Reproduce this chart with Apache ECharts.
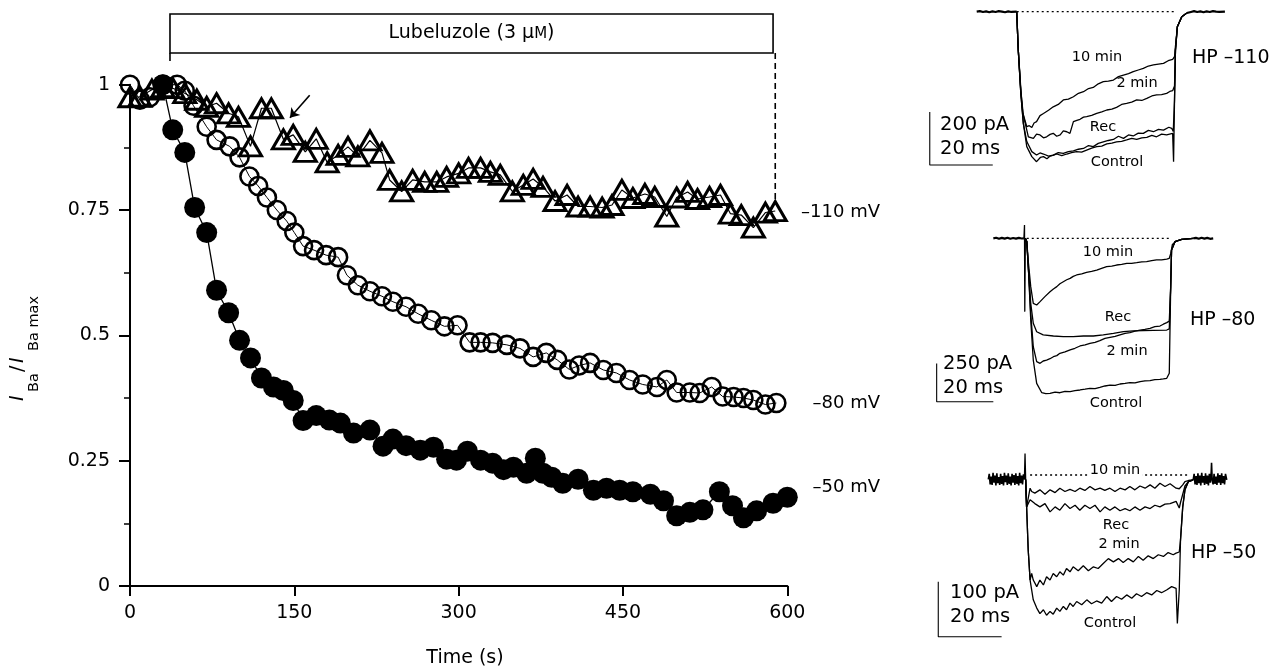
<!DOCTYPE html>
<html>
<head>
<meta charset="utf-8">
<script src="https://cdn.jsdelivr.net/npm/echarts@6/dist/echarts.min.js"></script>
<style>
  html, body { margin: 0; padding: 0; background: #fff; }
  #chart { width: 1272px; height: 670px; }
</style>
</head>
<body>
<div id="chart"></div>
<script>
// ---------- main panel: normalised Ba2+ current vs time ----------
const xTicks = [0, 150, 300, 450, 600];
const yTicks = [0, 0.25, 0.5, 0.75, 1];
const drugOn = 36.5;   // s, lubeluzole application start
const drugOff = 587;   // s, application end

// HP -110 mV (open triangles)
const tri110 = [[0,0.975],[9,0.976],[20,0.99],[30,0.995],[39,0.993],[50,0.983],[61,0.97],[70,0.956],[79,0.963],[90,0.943],[99,0.936],[110,0.877],[120,0.953],[129,0.953],[140,0.891],[149,0.9],[160,0.866],[170,0.892],[180,0.845],[190,0.86],[199,0.876],[208,0.857],[219,0.889],[230,0.864],[237,0.81],[248,0.787],[258,0.81],[269,0.806],[280,0.806],[289,0.816],[300,0.823],[309,0.834],[320,0.834],[329,0.826],[338,0.82],[349,0.787],[359,0.8],[368,0.812],[377,0.796],[388,0.768],[399,0.78],[409,0.757],[420,0.757],[431,0.755],[440,0.76],[449,0.79],[459,0.774],[470,0.782],[479,0.776],[490,0.737],[499,0.775],[509,0.786],[518,0.772],[529,0.776],[539,0.78],[548,0.743],[558,0.74],[569,0.715],[580,0.745],[589,0.748]];

// HP -80 mV (open circles)
const open80 = [[0,1.0],[9,0.97],[18,0.975],[30,1.0],[43,1.0],[50,0.988],[58,0.958],[70,0.916],[79,0.89],[91,0.877],[100,0.855],[109,0.817],[117,0.798],[125,0.775],[134,0.75],[143,0.728],[150,0.705],[158,0.678],[168,0.67],[179,0.66],[190,0.656],[198,0.62],[208,0.6],[219,0.588],[230,0.578],[240,0.567],[252,0.557],[263,0.543],[275,0.53],[287,0.518],[299,0.52],[310,0.486],[320,0.486],[331,0.485],[344,0.481],[356,0.474],[368,0.457],[380,0.465],[390,0.451],[401,0.432],[410,0.44],[420,0.445],[432,0.431],[444,0.425],[456,0.411],[468,0.402],[481,0.397],[490,0.411],[499,0.386],[511,0.386],[520,0.385],[531,0.397],[541,0.378],[551,0.377],[560,0.375],[569,0.371],[580,0.362],[590,0.365]];

// HP -50 mV (filled circles)
const filled50 = [[30,1.0],[39,0.91],[50,0.865],[59,0.755],[70,0.705],[79,0.59],[90,0.545],[100,0.49],[110,0.455],[120,0.415],[131,0.397],[140,0.39],[149,0.37],[158,0.33],[170,0.34],[182,0.331],[192,0.325],[204,0.305],[219,0.311],[231,0.279],[240,0.293],[252,0.28],[265,0.271],[277,0.277],[289,0.253],[298,0.251],[308,0.269],[320,0.251],[331,0.245],[341,0.232],[350,0.237],[362,0.225],[370,0.255],[377,0.225],[385,0.217],[395,0.205],[409,0.213],[423,0.191],[435,0.195],[447,0.191],[459,0.188],[475,0.183],[487,0.17],[499,0.14],[511,0.147],[523,0.152],[538,0.188],[550,0.16],[560,0.136],[572,0.15],[587,0.165],[600,0.177]];

// ---------- current traces (x: ms, y: pA) ----------
// HP -110
const hp110Pre = [[0,0],[1,2],[2,-1],[3,1],[4,-2],[5,1],[6,-1],[7,2],[8,0],[9,-2],[10,1],[11,-1],[12.7,0]];
const hp110Post = [[66.7,-5],[68,-1],[69,2],[70,-1],[71,1],[72,-2],[73,1],[74,-1],[75,2],[76,0],[77,-1],[78.8,0]];
const hp110Control = [[12.7,0],[13.2,-145],[14,-308],[14.8,-421],[15.9,-509],[17.5,-547],[19,-566],[20.2,-550],[21.2,-547],[22.3,-555],[23.3,-545],[24.4,-541],[25.4,-537],[27,-543],[28.6,-537],[30.1,-532],[31.7,-528],[33.3,-530],[34.9,-522],[36.5,-515],[38.1,-509],[39.7,-507],[41.3,-499],[42.9,-496],[44.4,-491],[46,-489],[47.6,-484],[49.2,-478],[50.8,-482],[52.4,-476],[54,-474],[55.6,-467],[57.1,-472],[58.7,-462],[60.3,-465],[62.2,-459],[62.5,-566],[62.8,-333],[63.1,-145],[63.7,-57],[65.1,-19],[66.7,-5]];
const hp110Rec = [[12.7,0],[13.2,-145],[14,-308],[14.8,-421],[15.9,-490],[17.5,-528],[19,-541],[20.1,-533],[21.2,-537],[22.8,-545],[24.3,-541],[25.9,-532],[27.5,-535],[29.1,-528],[30.7,-525],[32.3,-519],[33.9,-516],[35.5,-505],[37,-509],[38.6,-497],[40.2,-491],[41.8,-486],[43.4,-482],[45,-470],[46.6,-478],[48.2,-465],[49.7,-469],[51.3,-458],[52.9,-459],[54.5,-448],[56.1,-453],[57.7,-444],[59.3,-447],[61,-436],[61.9,-440],[62.4,-452],[62.8,-333],[63.1,-145],[63.7,-57],[65.1,-19],[66.7,-5]];
const hp110Min2 = [[12.7,0],[13.2,-145],[14,-300],[14.8,-390],[16.4,-472],[18,-478],[19,-462],[20.1,-465],[21.2,-476],[22.2,-472],[23.3,-463],[24.3,-459],[25.4,-470],[26.5,-465],[27.5,-450],[28.6,-453],[29.6,-459],[30.7,-415],[31.8,-410],[32.8,-406],[33.9,-398],[34.9,-396],[36.5,-391],[38.1,-384],[39.7,-378],[41.3,-371],[42.9,-368],[44.4,-361],[46,-350],[47.6,-346],[49.2,-341],[50.8,-333],[52.4,-335],[54,-327],[55.6,-318],[57.1,-314],[58.7,-313],[60.3,-308],[61.3,-301],[62.2,-298],[62.8,-280],[63.1,-145],[63.7,-57],[65.1,-19],[66.7,-5]];
const hp110Min10 = [[12.7,0],[13.2,-145],[14,-290],[14.6,-380],[15.9,-434],[16.7,-430],[17.5,-437],[18.2,-420],[19,-415],[20.1,-392],[21.2,-384],[22.8,-372],[24.3,-359],[25.9,-350],[27.5,-333],[29.1,-330],[30.7,-321],[32.3,-308],[33.9,-302],[35.5,-290],[37,-286],[38.6,-272],[40.2,-264],[41.8,-262],[43.4,-258],[45,-245],[46.6,-239],[48.2,-234],[49.7,-226],[51.3,-220],[52.9,-214],[54.5,-205],[56.1,-201],[57.7,-198],[59.3,-195],[60.8,-185],[62.2,-180],[62.8,-170],[63.1,-130],[63.7,-57],[65.1,-19],[66.7,-5]];
const hp110Zero = [[12.7,0],[62.6,0]];

// HP -80
const hp80Pre = [[0,0],[1,4],[2,-3],[3,3],[4,-2],[5,4],[6,-3],[7,2],[8,-2],[9,3],[10,-1],[10.8,0]];
const hp80Post = [[70.6,0],[71.5,3],[72.5,-3],[73.5,4],[74.5,-2],[75.5,3],[76.5,-3],[77.6,0]];
const hp80Control = [[10.8,0],[11,87],[11.1,-478],[11.3,0],[11.8,-20],[12.4,-207],[13.2,-533],[14.1,-794],[15.3,-946],[17.1,-1007],[18.5,-1013],[20,-1011],[21.8,-1003],[23.5,-1007],[25.3,-998],[27.1,-1000],[28.8,-993],[30.6,-989],[32.4,-984],[34.1,-978],[35.9,-980],[37.6,-972],[39.4,-963],[41.2,-957],[43,-959],[44.7,-950],[46.5,-946],[48.2,-941],[50,-943],[51.8,-935],[53.5,-930],[55.3,-928],[57,-922],[58.8,-920],[60,-917],[61.2,-913],[62.1,-880],[62.6,-315],[62.9,-76],[64.1,-22],[66.5,-7],[70.6,0]];
const hp80Min2 = [[11.3,0],[11.8,-20],[12.4,-207],[13.2,-489],[14.1,-707],[15.3,-804],[16.5,-815],[17.6,-800],[18.8,-794],[20,-785],[21.2,-772],[22.4,-765],[23.5,-750],[25.3,-741],[27.1,-728],[28.8,-717],[30.6,-702],[32.4,-695],[34.1,-685],[35.9,-678],[37.6,-667],[39.4,-652],[41.2,-646],[43,-640],[44.7,-630],[46.5,-620],[48.2,-615],[50,-605],[51.8,-598],[53.5,-594],[55.3,-587],[57,-576],[58.8,-572],[60,-560],[61.2,-550],[62.1,-540],[62.6,-315],[62.9,-76],[64.1,-22],[66.5,-7],[70.6,0]];
const hp80Rec = [[11.3,0],[11.8,-20],[12.4,-207],[13.2,-424],[14.1,-554],[15.3,-609],[17.6,-630],[21.2,-637],[24.7,-641],[28.2,-641],[31.8,-637],[35.3,-637],[38.8,-630],[42.4,-620],[45.9,-609],[49.4,-604],[52.9,-602],[56.5,-600],[61.2,-598],[62.1,-590],[62.6,-315],[62.9,-76],[64.1,-22],[66.5,-7],[70.6,0]];
const hp80Min10 = [[11.3,0],[11.8,-20],[12.4,-163],[13.2,-315],[14.1,-424],[15.3,-435],[16.5,-413],[18.2,-380],[20,-348],[21.2,-330],[22.4,-315],[23.5,-296],[24.7,-283],[25.9,-270],[27.1,-261],[28.2,-248],[29.4,-239],[31.2,-232],[32.9,-222],[34.7,-216],[36.5,-207],[38.2,-196],[40,-185],[41.8,-181],[43.5,-174],[45.3,-170],[47.1,-163],[48.8,-163],[50.6,-159],[52.4,-154],[54.1,-152],[55.9,-146],[57.6,-141],[59.4,-140],[61.2,-135],[62.1,-130],[62.6,-100],[63.2,-40],[64.6,-18],[66.5,-7],[70.6,0]];
const hp80Zero = [[11.8,0],[62.4,0]];

// HP -50
const hp50Pre = [[0,-8],[0.3,2],[0.6,-17],[0.9,-3],[1.2,-18],[1.5,4],[1.8,-14],[2.1,-1],[2.4,-19],[2.7,3],[3,-15],[3.3,-4],[3.6,-18],[3.9,2],[4.2,-16],[4.5,-2],[4.8,-19],[5.1,4],[5.4,-13],[5.7,-1],[6,-18],[6.3,3],[6.6,-16],[6.9,-3],[7.2,-19],[7.5,2],[7.8,-14],[8.1,0],[8.4,-18],[8.7,3],[9,-16],[9.3,-2],[9.6,-19],[9.9,4],[10.2,-15],[10.5,-1],[10.8,-17],[11.1,1],[11.4,-8]];
const hp50Post = [[64.7,-9],[65,2],[65.3,-17],[65.6,-2],[65.9,-18],[66.2,3],[66.5,-15],[66.8,-1],[67.1,-19],[67.4,4],[67.7,-14],[68,-2],[68.3,-18],[68.6,3],[68.9,-16],[69.2,-1],[69.5,-19],[69.8,2],[70.1,-14],[70.4,6],[70.5,22],[70.7,-10],[71,-17],[71.3,2],[71.6,-16],[71.9,-3],[72.2,-18],[72.5,3],[72.8,-14],[73.1,0],[73.4,-18],[73.7,3],[74,-15],[74.3,-2],[74.6,-17],[74.9,2],[75.3,-9]];
const hp50Control = [[11.4,-8],[11.6,39],[11.8,-8],[12.1,-58],[12.6,-136],[13.2,-191],[14.2,-227],[15.3,-242],[16.3,-252],[17.4,-245],[18.4,-255],[19.5,-248],[20.5,-253],[21.6,-242],[22.6,-248],[23.7,-239],[24.7,-245],[25.8,-233],[26.8,-239],[27.9,-230],[29.5,-236],[31.1,-227],[32.6,-234],[34.2,-229],[35.8,-233],[37.4,-221],[38.9,-230],[40.5,-221],[42.1,-226],[43.7,-218],[45.3,-224],[46.8,-216],[48.4,-221],[50,-214],[51.6,-218],[53.2,-210],[54.7,-214],[56.3,-209],[57.9,-203],[59.3,-206],[59.7,-270],[60.3,-209],[60.7,-118],[61.4,-58],[62.1,-27],[63.2,-12],[64.7,-9]];
const hp50Min2 = [[11.8,-8],[12.1,-58],[12.6,-136],[13.2,-191],[13.7,-179],[14.2,-191],[15.3,-203],[16.3,-191],[17.4,-200],[18.4,-185],[19.5,-191],[20.5,-179],[21.6,-185],[22.6,-176],[23.7,-182],[24.7,-170],[25.8,-176],[26.8,-167],[28.4,-174],[30,-165],[31.6,-174],[33.2,-167],[34.7,-170],[36.3,-161],[37.9,-152],[39.5,-158],[41.1,-152],[42.6,-159],[44.2,-152],[45.8,-158],[47.4,-148],[48.9,-155],[50.5,-147],[52.1,-152],[53.7,-145],[55.3,-148],[56.8,-141],[58.4,-145],[59.3,-142],[60.3,-140],[60.7,-118],[61.4,-58],[62.1,-27],[63.2,-12],[64.7,-9]];
const hp50Rec = [[11.8,-8],[12.1,-58],[13.2,-45],[13.7,-48],[14.7,-52],[16.3,-58],[17.9,-52],[19.5,-67],[21.1,-58],[22.6,-64],[24.2,-52],[25.8,-61],[27.4,-55],[28.9,-64],[30.5,-55],[32.1,-61],[33.7,-55],[35.3,-67],[36.8,-58],[38.4,-64],[40,-58],[41.6,-65],[43.2,-61],[44.7,-65],[46.3,-58],[47.9,-64],[49.5,-58],[51.1,-61],[52.6,-55],[54.2,-58],[55.8,-53],[57.4,-52],[59.3,-48],[60.3,-60],[60.7,-50],[61.4,-35],[62.1,-20],[63.2,-12],[64.7,-9]];
const hp50Min10 = [[11.8,-8],[12.1,-58],[13.2,-24],[13.7,-30],[14.7,-33],[16.3,-27],[17.9,-35],[19.5,-27],[21.1,-32],[22.6,-24],[24.2,-30],[25.8,-26],[27.4,-30],[28.9,-24],[30.5,-28],[32.1,-21],[33.7,-27],[35.3,-24],[36.8,-28],[38.4,-24],[40,-30],[41.6,-24],[43.2,-27],[44.7,-21],[46.3,-27],[47.9,-20],[49.5,-24],[51.1,-18],[52.6,-24],[54.2,-15],[55.8,-21],[57.4,-16],[59.3,-24],[60.3,-25],[61.4,-18],[62.1,-12],[63.2,-10],[64.7,-9]];
const hp50Zero = [[13.2,0],[63.7,0]];

// scale bars: [ms, pA] lengths and the corner they hang from
const scaleBars = [
  { ms: 20, pA: 200, corner: [-14.9, -578.5] },
  { ms: 20, pA: 250, corner: [-20, -1066] },
  { ms: 20, pA: 100, corner: [-15.8, -294] }
];

const FONT = 'DejaVu Sans';
const BLACK = '#000';

function barPath(b) {
  const [x0, y0] = b.corner;
  return [[x0, y0 + b.pA], [x0, y0], [x0 + b.ms, y0]];
}

function trace(data, idx, width, extra) {
  return Object.assign({
    type: 'line', data: data, xAxisIndex: idx, yAxisIndex: idx,
    symbol: 'none', silent: true, animation: false, z: 3,
    lineStyle: { color: BLACK, width: width || 1.3 }
  }, extra || {});
}

function hiddenAxis(idx, min, max) {
  return { gridIndex: idx, type: 'value', min: min, max: max, show: false };
}

const dotted = { lineStyle: { color: BLACK, width: 1.3, type: [2, 3] } };

const option = {
  animation: false,
  backgroundColor: '#fff',
  textStyle: { fontFamily: FONT, color: BLACK },
  grid: [
    { left: 130, top: 84.7, width: 657.3, height: 501.3 },
    { left: 926.3, top: 1.1, width: 302.4, height: 169.6 },
    { left: 931, top: 223, width: 289, height: 184 },
    { left: 931.3, top: 447.5, width: 304, height: 192.5 }
  ],
  xAxis: [
    {
      gridIndex: 0, type: 'value', min: xTicks[0], max: xTicks[xTicks.length - 1],
      interval: xTicks[1] - xTicks[0],
      axisLine: { show: true, lineStyle: { color: BLACK, width: 2 } },
      axisTick: { show: true, length: 10, lineStyle: { color: BLACK, width: 2 } },
      axisLabel: { fontSize: 19, color: BLACK, fontFamily: FONT, margin: 18 },
      splitLine: { show: false }
    },
    hiddenAxis(1, -16, 80), hiddenAxis(2, -22, 80), hiddenAxis(3, -18, 78)
  ],
  yAxis: [
    {
      gridIndex: 0, type: 'value', min: yTicks[0], max: yTicks[yTicks.length - 1],
      interval: yTicks[1] - yTicks[0],
      axisLine: { show: true, lineStyle: { color: BLACK, width: 2 } },
      axisTick: { show: true, length: 11, lineStyle: { color: BLACK, width: 2 } },
      minorTick: { show: true, splitNumber: 2, length: 6, lineStyle: { color: BLACK, width: 1.5 } },
      axisLabel: { fontSize: 19, color: BLACK, fontFamily: FONT, margin: 20 },
      splitLine: { show: false }
    },
    hiddenAxis(1, -600, 40), hiddenAxis(2, -1100, 100), hiddenAxis(3, -300, 50)
  ],
  series: [
    {
      name: '-80 mV', type: 'line', data: open80, clip: false, z: 2,
      symbol: 'circle', symbolSize: 18,
      itemStyle: { color: 'rgba(0,0,0,0)', borderColor: BLACK, borderWidth: 2.6 },
      lineStyle: { color: BLACK, width: 1 }
    },
    {
      name: '-110 mV', type: 'line', data: tri110, clip: false, z: 3,
      symbol: 'triangle', symbolSize: [22, 19],
      itemStyle: { color: 'rgba(0,0,0,0)', borderColor: BLACK, borderWidth: 3 },
      lineStyle: { color: BLACK, width: 1.2 },
      markLine: {
        silent: true, animation: false,
        symbol: ['none', 'arrow'], symbolSize: 9,
        label: { show: false },
        lineStyle: { color: BLACK, width: 1.6, type: 'solid' },
        data: [[{ coord: [164, 0.979] }, { coord: [146, 0.934] }]]
      }
    },
    {
      name: '-50 mV', type: 'line', data: filled50, clip: false, z: 4,
      symbol: 'circle', symbolSize: 21,
      itemStyle: { color: BLACK },
      lineStyle: { color: BLACK, width: 1.3 }
    },
    // HP -110 traces
    trace(hp110Pre, 1, 2.2), trace(hp110Post, 1, 2.2),
    trace(hp110Control, 1), trace(hp110Rec, 1), trace(hp110Min2, 1), trace(hp110Min10, 1),
    trace(hp110Zero, 1, 1.3, dotted),
    trace(barPath(scaleBars[0]), 1, 1.1),
    // HP -80 traces
    trace(hp80Pre, 2, 2.2), trace(hp80Post, 2, 2.2),
    trace(hp80Control, 2), trace(hp80Rec, 2), trace(hp80Min2, 2), trace(hp80Min10, 2),
    trace(hp80Zero, 2, 1.3, dotted),
    trace(barPath(scaleBars[1]), 2, 1.1),
    // HP -50 traces
    trace(hp50Pre, 3, 1.6), trace(hp50Post, 3, 1.6),
    trace(hp50Control, 3), trace(hp50Rec, 3), trace(hp50Min2, 3), trace(hp50Min10, 3),
    trace(hp50Zero, 3, 1.3, dotted),
    trace(barPath(scaleBars[2]), 3, 1.1)
  ]
};

const chart = echarts.init(document.getElementById('chart'), null, { renderer: 'canvas' });
chart.setOption(option);

// annotations placed from the axis scale
const pOn = chart.convertToPixel({ gridIndex: 0 }, [drugOn, 1]);
const pOff = chart.convertToPixel({ gridIndex: 0 }, [drugOff, 1]);
const pLast = chart.convertToPixel({ gridIndex: 0 }, tri110[tri110.length - 1]);

function txt(x, y, text, size, align, extra) {
  return {
    type: 'text', x: x, y: y, silent: true, z: 10,
    style: Object.assign({
      text: text, fontSize: size, fontFamily: FONT, fill: BLACK,
      align: align || 'left', verticalAlign: 'middle'
    }, extra || {})
  };
}

const graphics = [
  // lubeluzole application bar
  { type: 'rect', silent: true, z: 10,
    shape: { x: pOn[0], y: 14, width: pOff[0] - pOn[0], height: 39 },
    style: { fill: '#fff', stroke: BLACK, lineWidth: 1.6 } },
  { type: 'line', silent: true, z: 10,
    shape: { x1: pOn[0], y1: 53, x2: pOn[0], y2: 61 },
    style: { stroke: BLACK, lineWidth: 1.6 } },
  { type: 'line', silent: true, z: 10,
    shape: { x1: pLast[0], y1: 53, x2: pLast[0], y2: pLast[1] - 10 },
    style: { stroke: BLACK, lineWidth: 1.6, lineDash: [6, 4] } },
  txt((pOn[0] + pOff[0]) / 2, 33, 'Lubeluzole (3 {mu|μ}{m|M})', 19, 'center', {
    rich: {
      mu: { fontSize: 19, fontFamily: FONT, fill: BLACK },
      m: { fontSize: 15, fontFamily: FONT, fill: BLACK, padding: [3, 0, 0, 0] }
    }
  }),
  // holding potential labels of the main panel
  txt(880, 212, '–110 mV', 18, 'right'),
  txt(880, 403, '–80 mV', 18, 'right'),
  txt(880, 487, '–50 mV', 18, 'right'),
  // x axis title
  txt(465, 658, 'Time (s)', 19, 'center'),
  // y axis title: I_Ba / I_Ba max, read bottom to top
  { type: 'group', x: 18, y: 401, rotation: Math.PI / 2, silent: true, z: 10,
    children: [
      { type: 'text', x: 0, y: 0, style: { text: 'I', fontSize: 19, fontStyle: 'italic', fontFamily: FONT, fill: BLACK, verticalAlign: 'middle' } },
      { type: 'text', x: 9, y: 16, style: { text: 'Ba', fontSize: 14.5, fontFamily: FONT, fill: BLACK, verticalAlign: 'middle' } },
      { type: 'text', x: 29, y: 0, style: { text: '/', fontSize: 19, fontFamily: FONT, fill: BLACK, verticalAlign: 'middle' } },
      { type: 'text', x: 38, y: 0, style: { text: 'I', fontSize: 19, fontStyle: 'italic', fontFamily: FONT, fill: BLACK, verticalAlign: 'middle' } },
      { type: 'text', x: 50, y: 16, style: { text: 'Ba max', fontSize: 14.5, fontFamily: FONT, fill: BLACK, verticalAlign: 'middle' } }
    ] },
  // HP -110 inset labels
  txt(1097, 57, '10 min', 14.5, 'center'),
  txt(1137, 83, '2 min', 14.5, 'center'),
  txt(1103, 127, 'Rec', 14.5, 'center'),
  txt(1117, 162, 'Control', 14.5, 'center'),
  txt(1192, 58, 'HP –110', 19),
  txt(940, 125, '200 pA', 19.5),
  txt(940, 149, '20 ms', 19.5),
  // HP -80 inset labels
  txt(1108, 252, '10 min', 14.5, 'center'),
  txt(1118, 317, 'Rec', 14.5, 'center'),
  txt(1127, 351, '2 min', 14.5, 'center'),
  txt(1116, 403, 'Control', 14.5, 'center'),
  txt(1190, 320, 'HP –80', 19),
  txt(943, 364, '250 pA', 19.5),
  txt(943, 388, '20 ms', 19.5),
  // HP -50 inset labels
  txt(1115, 470, '10 min', 14.5, 'center', { backgroundColor: '#fff', padding: [0, 2] }),
  txt(1116, 525, 'Rec', 14.5, 'center'),
  txt(1119, 544, '2 min', 14.5, 'center'),
  txt(1110, 623, 'Control', 14.5, 'center'),
  txt(1191, 553, 'HP –50', 19),
  txt(950, 593, '100 pA', 19.5),
  txt(950, 617, '20 ms', 19.5)
];

chart.setOption({ graphic: graphics });
</script>
</body>
</html>
